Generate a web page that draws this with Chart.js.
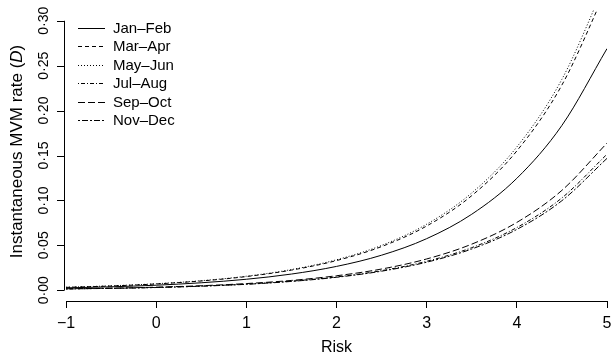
<!DOCTYPE html>
<html>
<head>
<meta charset="utf-8">
<script src="https://cdn.jsdelivr.net/npm/chart.js@4"></script>
<style>
  html, body { margin: 0; padding: 0; background: #fff; }
  #wrap { width: 611px; height: 357px; }
</style>
</head>
<body>
<div id="wrap"><canvas id="mvmChart" width="611" height="357"></canvas></div>
<script>
// values
const riskX = [-1, -0.5, 0, 0.5, 1, 1.5, 2, 2.5, 3, 3.5, 4, 4.5, 5];

const janFeb = [0.0026, 0.0038, 0.0056, 0.0083, 0.0122, 0.0180, 0.0265, 0.0390, 0.0574, 0.0846, 0.1246, 0.1835, 0.2690];
const marApr = [0.0032, 0.0047, 0.0070, 0.0103, 0.0152, 0.0224, 0.0330, 0.0486, 0.0715, 0.1053, 0.1551, 0.2285, 0.3365];
const mayJun = [0.0033, 0.0049, 0.0072, 0.0106, 0.0156, 0.0230, 0.0339, 0.0499, 0.0735, 0.1083, 0.1595, 0.2349, 0.3460];
const julAug = [0.0015, 0.0021, 0.0031, 0.0046, 0.0068, 0.0101, 0.0148, 0.0218, 0.0322, 0.0474, 0.0698, 0.1028, 0.1514];
const sepOct = [0.0016, 0.0023, 0.0034, 0.0050, 0.0074, 0.0109, 0.0161, 0.0236, 0.0348, 0.0513, 0.0755, 0.1112, 0.1638];
const novDec = [0.0014, 0.0021, 0.0030, 0.0045, 0.0066, 0.0098, 0.0144, 0.0212, 0.0312, 0.0459, 0.0677, 0.0997, 0.1468];

const seriesNames = ['Jan\u2013Feb', 'Mar\u2013Apr', 'May\u2013Jun', 'Jul\u2013Aug', 'Sep\u2013Oct', 'Nov\u2013Dec'];
const seriesValues = [janFeb, marApr, mayJun, julAug, sepOct, novDec];
const seriesDash = [[], [4, 3], [1, 2], [1, 2, 4, 2], [7, 3], [2, 2, 6, 2]];

const xTicks = [-1, 0, 1, 2, 3, 4, 5];
const yTicks = [0, 0.05, 0.10, 0.15, 0.20, 0.25, 0.30];

const FONT = '"Liberation Sans", Arial, Helvetica, sans-serif';

const datasets = seriesNames.map((name, i) => ({
    label: name,
    data: riskX.map((x, j) => ({ x: x, y: seriesValues[i][j] })),
    borderColor: '#000',
    borderWidth: 1,
    borderDash: seriesDash[i],
    pointRadius: 0,
    fill: false,
    cubicInterpolationMode: 'monotone'
}));

// y axis, y title and legend drawn R-style
const rAxisPlugin = {
    id: 'rAxis',
    afterDraw(chart) {
        const ctx = chart.ctx;
        const ys = chart.scales.y;
        const area = chart.chartArea;
        const axisX = area.left - 2;
        const top = ys.getPixelForValue(yTicks[yTicks.length - 1]);
        const bottom = ys.getPixelForValue(yTicks[0]);

        ctx.save();
        ctx.strokeStyle = '#000';
        ctx.lineWidth = 1;
        ctx.beginPath();
        ctx.moveTo(axisX + 0.5, top);
        ctx.lineTo(axisX + 0.5, bottom);
        yTicks.forEach(v => {
            const p = Math.round(ys.getPixelForValue(v)) + 0.5;
            ctx.moveTo(axisX + 0.5, p);
            ctx.lineTo(axisX - 7, p);
        });
        ctx.stroke();

        // tick labels, parallel to the axis
        ctx.fillStyle = '#000';
        ctx.font = '14px ' + FONT;
        ctx.textAlign = 'center';
        ctx.textBaseline = 'middle';
        yTicks.forEach(v => {
            const p = ys.getPixelForValue(v);
            ctx.save();
            ctx.translate(axisX - 20, p);
            ctx.rotate(-Math.PI / 2);
            ctx.fillText(v.toFixed(2).replace('.', '\u00b7'), 0, 0);
            ctx.restore();
        });

        // axis title with italic D
        const partA = 'Instantaneous MVM rate (';
        const partB = 'D';
        const partC = ')';
        const fontN = '17px ' + FONT;
        const fontI = 'italic 17px ' + FONT;
        ctx.font = fontN;
        const wA = ctx.measureText(partA).width;
        const wC = ctx.measureText(partC).width;
        ctx.font = fontI;
        const wB = ctx.measureText(partB).width;
        const total = wA + wB + wC;
        const cy = (top + bottom) / 2 - 4;
        ctx.save();
        ctx.translate(17, cy);
        ctx.rotate(-Math.PI / 2);
        ctx.textAlign = 'left';
        let x0 = -total / 2;
        ctx.font = fontN;
        ctx.fillText(partA, x0, 0);
        ctx.font = fontI;
        ctx.fillText(partB, x0 + wA, 0);
        ctx.font = fontN;
        ctx.fillText(partC, x0 + wA + wB, 0);
        ctx.restore();

        // legend
        ctx.font = '15px ' + FONT;
        ctx.textAlign = 'left';
        ctx.textBaseline = 'middle';
        chart.data.datasets.forEach((ds, i) => {
            const ly = Math.round(area.top + 18 + i * 18.4) + 0.5;
            ctx.setLineDash(ds.borderDash);
            ctx.beginPath();
            ctx.moveTo(area.left + 12, ly);
            ctx.lineTo(area.left + 39, ly);
            ctx.stroke();
            ctx.setLineDash([]);
            ctx.fillText(ds.label, area.left + 47, ly);
        });
        ctx.restore();
    }
};

new Chart(document.getElementById('mvmChart').getContext('2d'), {
    type: 'line',
    data: { datasets: datasets },
    options: {
        responsive: false,
        animation: false,
        layout: { padding: { left: 66, top: 10, right: 4, bottom: 0 } },
        plugins: {
            legend: { display: false },
            tooltip: { enabled: false }
        },
        scales: {
            x: {
                type: 'linear',
                min: -1,
                max: 5,
                afterBuildTicks: scale => { scale.ticks = xTicks.map(v => ({ value: v })); },
                afterFit: scale => {
                    scale.height = 56;
                    scale.paddingLeft = 0;
                    scale.paddingRight = 0;
                },
                border: { display: true, color: '#000', width: 1 },
                grid: { drawOnChartArea: false, drawTicks: true, tickLength: 7, color: '#000' },
                ticks: {
                    color: '#000',
                    padding: 6,
                    maxRotation: 0,
                    font: { size: 16, family: FONT },
                    callback: v => String(v).replace('-', '\u2212')
                },
                title: {
                    display: true,
                    text: 'Risk',
                    color: '#000',
                    font: { size: 16, family: FONT },
                    padding: { top: 1, bottom: 0 }
                }
            },
            y: {
                display: false,
                min: -0.012,
                max: 0.312
            }
        }
    },
    plugins: [rAxisPlugin]
});
</script>
</body>
</html>
